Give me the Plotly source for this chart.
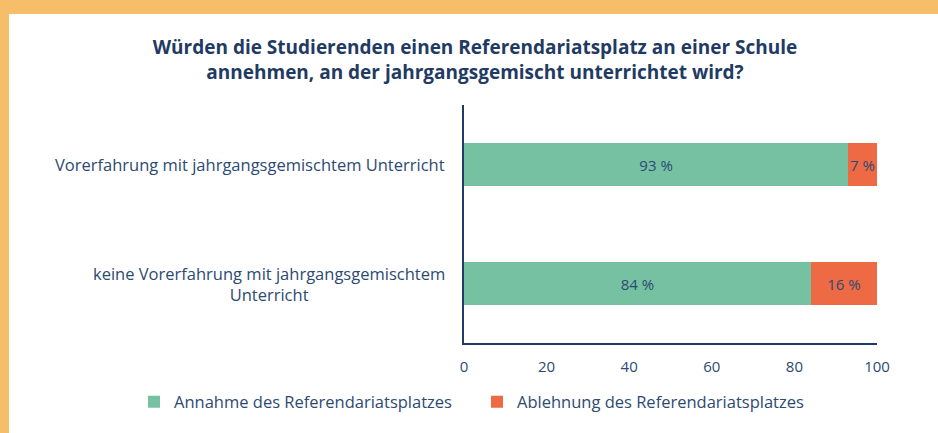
import plotly.graph_objects as go

categories = [
    "Vorerfahrung mit jahrgangsgemischtem Unterricht",
    "keine Vorerfahrung mit jahrgangsgemischtem<br>Unterricht",
]
annahme = [93, 84]
ablehnung = [7, 16]
series_names = ["Annahme des Referendariatsplatzes", "Ablehnung des Referendariatsplatzes"]
x_ticks = [0, 20, 40, 60, 80, 100]
title_text = ("Würden die Studierenden einen Referendariatsplatz an einer Schule<br>"
              "annehmen, an der jahrgangsgemischt unterrichtet wird?")

W, H = 938, 433
ML, MR, MT, MB = 464, 61, 105, 90
pw, ph = W - ML - MR, H - MT - MB

navy = "#1F3B63"
txt = "#2C4A72"
green = "#76C1A2"
red = "#EE6A45"
orange = "#F6BE68"
FONT = "Open Sans, Noto Sans, sans-serif"

fig = go.Figure()
for vals, name, col in [(annahme, series_names[0], green), (ablehnung, series_names[1], red)]:
    fig.add_trace(go.Bar(
        y=categories, x=vals, orientation="h", name=name,
        marker=dict(color=col, line=dict(width=0)),
        text=[f"{v} %" for v in vals], textposition="inside", textangle=0,
        insidetextanchor="middle", constraintext="none",
        textfont=dict(color=txt, size=15, family=FONT), hoverinfo="skip",
    ))

# category labels as annotations (centered multi-line, right-anchored)
for c in categories:
    fig.add_annotation(
        x=0, xref="paper", y=c, yref="y", xanchor="right", xshift=-17,
        text=c, showarrow=False, align="center",
        font=dict(size=16.5, color=txt, family=FONT),
    )

# white card with orange frame
fig.add_shape(
    type="rect", xref="paper", yref="paper", layer="below",
    x0=(9 - ML) / pw, x1=(W + 20 - ML) / pw,
    y0=-(H + 20 - MT - ph) / ph, y1=(H - 14 - MB) / ph,
    fillcolor="white", line=dict(width=0),
)

fig.update_layout(
    width=W, height=H,
    margin=dict(l=ML, r=MR, t=MT, b=MB, autoexpand=False),
    paper_bgcolor=orange, plot_bgcolor="white",
    barmode="stack", bargap=0.64,
    font=dict(family=FONT, color=txt, size=14.5),
    title=dict(
        text=title_text, xref="container", yref="container",
        x=475 / W, xanchor="center", y=1 - 54 / H, yanchor="top",
        font=dict(family=FONT, size=19, color=navy, weight="bold"),
    ),
    xaxis=dict(
        range=[0, 100], tickvals=x_ticks, showgrid=False, zeroline=False,
        showline=True, linecolor=navy, linewidth=2, ticks="",
        tickfont=dict(size=15, color=txt), ticklabelstandoff=9, fixedrange=True,
    ),
    yaxis=dict(
        categoryorder="array", categoryarray=categories[::-1],
        showticklabels=False, showgrid=False, zeroline=False,
        showline=True, linecolor=navy, linewidth=2, ticks="",
        fixedrange=True,
    ),
    legend=dict(
        orientation="h", xref="paper", x=(134 - ML) / pw, xanchor="left",
        yref="paper", y=-(402 - (H - MB)) / ph, yanchor="middle",
        font=dict(size=16.5, color=txt), itemwidth=30, entrywidth=298,
        traceorder="normal", bgcolor="rgba(0,0,0,0)",
    ),
    showlegend=True,
)

fig.write_html("out.html", config={"displayModeBar": False},
               post_script="document.body.style.margin='0';")
